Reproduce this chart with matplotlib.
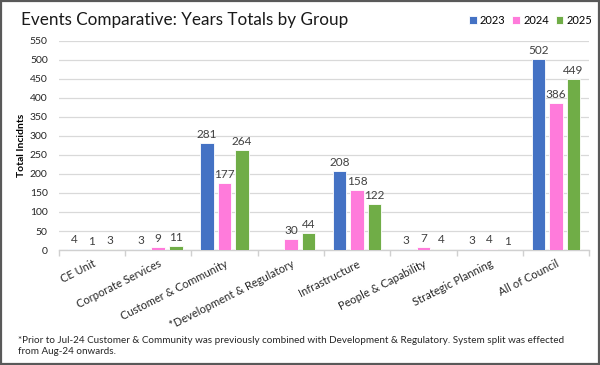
import matplotlib
matplotlib.use("Agg")
import matplotlib.pyplot as plt
import numpy as np
from matplotlib.patches import Rectangle

plt.rcParams['font.family'] = ['Lato', 'DejaVu Sans']

categories = ["CE Unit", "Corporate Services", "Customer & Community",
              "*Development & Regulatory", "Infrastructure", "People & Capability",
              "Strategic Planning", "All of Council"]
series_names = ["2023", "2024", "2025"]
v2023 = [4, 3, 281, np.nan, 208, 3, 3, 502]
v2024 = [1, 9, 177, 30, 158, 7, 4, 386]
v2025 = [3, 11, 264, 44, 122, 4, 1, 449]
colors = ["#4472C4", "#FF7BDB", "#70AD47"]
yticks = list(range(0, 551, 50))

fig = plt.figure(figsize=(6, 3.65), dpi=100)
fig.patch.set_facecolor("white")
fig.add_artist(Rectangle((0.002, 0.003), 0.996, 0.994, transform=fig.transFigure,
                         fill=False, edgecolor="#595959", linewidth=1.6))
ax = fig.add_axes([0.098, 0.315, 0.884, 0.573])

x = np.arange(len(categories))
w = 0.205
off = 0.264
for i, (vals, c, name) in enumerate(zip([v2023, v2024, v2025], colors, series_names)):
    pos = x + (i - 1) * off
    vv = np.array(vals, dtype=float)
    ax.bar(pos, np.nan_to_num(vv), width=w, color=c, edgecolor="white", linewidth=0.6,
           label=name, zorder=3)
    for p, v in zip(pos, vv):
        if not np.isnan(v):
            ax.text(p, v + 8, f"{int(v)}", ha="center", va="bottom", fontsize=8.5,
                    color="#404040", zorder=4)

ax.set_xlim(-0.5, len(categories) - 0.5)
ax.set_ylim(0, 550)
ax.set_yticks(yticks)
ax.yaxis.grid(True, color="#D9D9D9", linewidth=0.9, zorder=0)
ax.set_axisbelow(True)
for s in ["top", "right", "left"]:
    ax.spines[s].set_visible(False)
ax.spines["bottom"].set_color("#D0D0D0")
ax.spines["bottom"].set_linewidth(1.0)
ax.tick_params(axis="y", length=0, labelsize=7.5, labelcolor="#262626", pad=8)
ax.set_xticks(np.arange(-0.5, len(categories), 1.0), minor=False)
ax.set_xticklabels([])
ax.tick_params(axis="x", which="major", length=4, color="#D0D0D0", width=1.0)
ax.set_xticks(x, minor=True)
ax.set_xticklabels(categories, minor=True, rotation=27, ha="right",
                   rotation_mode="anchor", fontsize=8, color="#262626")
ax.tick_params(axis="x", which="minor", length=0, pad=6)

ax.set_ylabel("Total Incidnts", fontsize=7.5, fontweight="bold", color="black", labelpad=3)

fig.text(0.035, 0.945, "Events Comparative: Years Totals by Group", fontsize=12.3,
         color="#1a1a1a", va="center", ha="left")
leg = fig.legend(loc="center right", bbox_to_anchor=(0.995, 0.945), ncol=3, frameon=False,
                 fontsize=8, handlelength=0.7, handleheight=0.7, handletextpad=0.3,
                 columnspacing=0.6, borderaxespad=0)

fig.text(0.03, 0.052, "*Prior to Jul-24 Customer & Community was previously combined with "
         "Development & Regulatory. System split was effected\nfrom Aug-24 onwards.",
         fontsize=7.1, color="#262626", va="center", ha="left", linespacing=1.4)

fig.savefig("out.png", dpi=100)
